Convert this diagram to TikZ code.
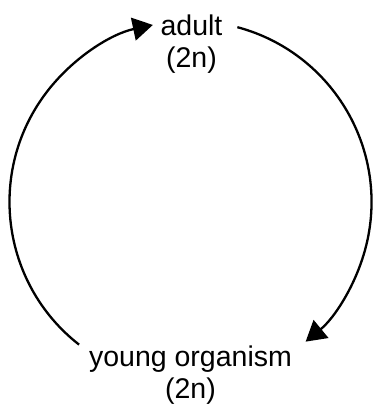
\documentclass[tikz,border=0pt]{standalone}
\usepackage{fontspec}
\setmainfont{Liberation Sans}
\usetikzlibrary{arrows.meta,calc}

\begin{document}
\begin{tikzpicture}[x=1pt,y=1pt,
  cyc/.style={line width=2.3pt, -{Triangle[length=20pt,width=23pt]}},
  stage/.style={align=center, anchor=base, inner sep=0pt, font=\fontsize{28.5}{32}\selectfont}]
\useasboundingbox (0,0) rectangle (373,407);
\coordinate (c) at (190.5,205);
\node[stage] (adult) at (191.5,339) {adult\\(2n)};
\node[stage] (young) at (190.5,9) {young organism\\(2n)};

\draw[cyc] ($(c)+(75:181pt)$) coordinate (adultout) arc[start angle=75, end angle=-50.5, radius=181pt];
\draw[cyc] ($(c)+(232:181pt)$) coordinate (youngout) arc[start angle=232, end angle=102, radius=181pt];
\end{tikzpicture}
\end{document}
